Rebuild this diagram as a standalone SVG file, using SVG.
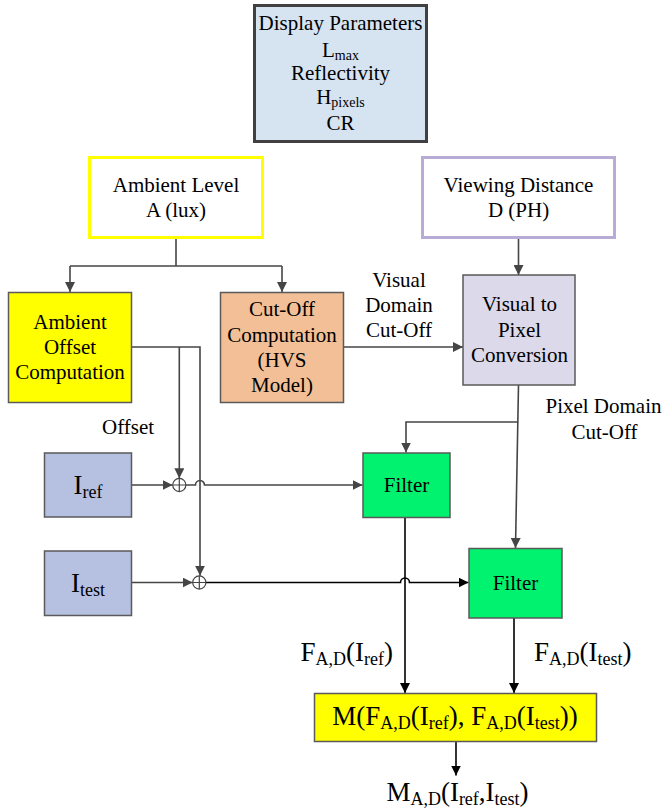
<svg xmlns="http://www.w3.org/2000/svg" width="662" height="809" viewBox="0 0 662 809" font-family="'Liberation Serif', 'Times New Roman', 'DejaVu Serif', serif">
<defs>
<style>
text{font-family:'Liberation Serif','Times New Roman','DejaVu Serif',serif;fill:#000;}
.t{font-size:21px;}
.b{font-size:27px;}
.s{font-size:18px;}
.ds{font-size:14px;}
.ln{fill:none;stroke:#454545;stroke-width:1.6;}
.lk{fill:none;stroke:#000;stroke-width:1.6;}
.box{stroke:#5a5a5a;stroke-width:1.5;}
</style>
<marker id="ag" viewBox="0 0 10 10" refX="10" refY="5" markerWidth="10" markerHeight="10" markerUnits="userSpaceOnUse" orient="auto">
<path d="M0,0 L10,5 L0,10 z" fill="#454545"/>
</marker>
<marker id="ak" viewBox="0 0 10 10" refX="10" refY="5" markerWidth="10" markerHeight="10" markerUnits="userSpaceOnUse" orient="auto">
<path d="M0,0 L10,5 L0,10 z" fill="#000"/>
</marker>
</defs>
<rect width="662" height="809" fill="#fff"/>

<g id="connectors">
<path class="ln" d="M176,239 V266"/>
<path class="ln" d="M70,266 H282"/>
<path class="ln" d="M70,266 V292" marker-end="url(#ag)"/>
<path class="ln" d="M282,266 V292" marker-end="url(#ag)"/>
<path class="ln" d="M518.5,239 V275" marker-end="url(#ag)"/>
<path class="ln" d="M344,347 H463" marker-end="url(#ag)"/>
<path class="ln" d="M518.5,385 L515.5,548" marker-end="url(#ag)"/>
<path class="ln" d="M517.8,422 H406 V452.5" marker-end="url(#ag)"/>
<path class="ln" d="M131.5,347 H200 V575.8" marker-end="url(#ag)"/>
<path class="ln" d="M179.3,347 V478.3" marker-end="url(#ag)"/>
<path class="ln" d="M131.5,485 H172.6" marker-end="url(#ag)"/>
<path class="ln" d="M186,485 H195.5 A4.5,4.5 0 0 1 204.5,485 H362.5" marker-end="url(#ag)"/>
<path class="ln" d="M131.5,582.5 H192.6" marker-end="url(#ag)"/>
<path class="lk" d="M206,582.5 H400.5 A4.5,4.5 0 0 1 409.5,582.5 H468.5" marker-end="url(#ak)"/>
<path class="lk" d="M405,517.5 V693" marker-end="url(#ak)"/>
<path class="lk" d="M514,618 V693" marker-end="url(#ak)"/>
<path class="lk" d="M456,741.5 V775.5" marker-end="url(#ak)"/>
<g fill="#fff" stroke="#454545" stroke-width="1.2">
<circle cx="179.3" cy="485" r="6.6"/>
<path d="M172.7,485 H185.9 M179.3,478.4 V491.6" fill="none"/>
<circle cx="199.3" cy="582.5" r="6.6"/>
<path d="M192.7,582.5 H205.9 M199.3,575.9 V589.1" fill="none"/>
</g>
</g>

<g id="display-parameters">
<rect x="254.5" y="5.5" width="172" height="136" fill="#d6e3f0" stroke="#404040" stroke-width="3"/>
<text class="t" x="340.5" y="30" text-anchor="middle">Display Parameters</text>
<text class="t" x="340.5" y="57" text-anchor="middle">L<tspan class="ds" dy="2.5">max</tspan></text>
<text class="t" x="340.5" y="80" text-anchor="middle">Reflectivity</text>
<text class="t" x="340.5" y="104" text-anchor="middle">H<tspan class="ds" dy="3">pixels</tspan></text>
<text class="t" x="340.5" y="130" text-anchor="middle">CR</text>
</g>

<g id="ambient-level">
<rect x="89.5" y="157.5" width="173" height="80" fill="#fff" stroke="#ffff00" stroke-width="3"/>
<text class="t" x="176" y="192" text-anchor="middle">Ambient Level</text>
<text class="t" x="176" y="217" text-anchor="middle">A (lux)</text>
</g>

<g id="viewing-distance">
<rect x="422.5" y="157.5" width="192" height="80" fill="#fff" stroke="#b8acd6" stroke-width="3"/>
<text class="t" x="518.5" y="192" text-anchor="middle">Viewing Distance</text>
<text class="t" x="518.5" y="217" text-anchor="middle">D (PH)</text>
</g>

<g id="ambient-offset">
<rect class="box" x="8.5" y="292.5" width="123" height="110" fill="#ffff00"/>
<text class="t" x="70" y="329" text-anchor="middle">Ambient</text>
<text class="t" x="70" y="354" text-anchor="middle">Offset</text>
<text class="t" x="70" y="379" text-anchor="middle">Computation</text>
</g>

<g id="cutoff-computation">
<rect class="box" x="220.5" y="292.5" width="123" height="110" fill="#f2bf96"/>
<text class="t" x="282" y="316" text-anchor="middle">Cut-Off</text>
<text class="t" x="282" y="341.5" text-anchor="middle">Computation</text>
<text class="t" x="282" y="366.5" text-anchor="middle">(HVS</text>
<text class="t" x="282" y="391.5" text-anchor="middle">Model)</text>
</g>

<g id="visual-to-pixel">
<rect class="box" x="463" y="275" width="112" height="110" fill="#dbd9ea"/>
<text class="t" x="519.5" y="311" text-anchor="middle">Visual to</text>
<text class="t" x="519.5" y="336.5" text-anchor="middle">Pixel</text>
<text class="t" x="519.5" y="362" text-anchor="middle">Conversion</text>
</g>

<g id="label-visual-cutoff">
<text class="t" x="399" y="286.5" text-anchor="middle">Visual</text>
<text class="t" x="399" y="311.5" text-anchor="middle">Domain</text>
<text class="t" x="399" y="336.5" text-anchor="middle">Cut-Off</text>
</g>

<g id="label-pixel-cutoff">
<text class="t" x="603.5" y="413" text-anchor="middle">Pixel Domain</text>
<text class="t" x="604.5" y="439" text-anchor="middle">Cut-Off</text>
</g>

<g id="label-offset">
<text class="t" x="102" y="434">Offset</text>
</g>

<g id="iref">
<rect class="box" x="44.5" y="453" width="87" height="64" fill="#b6c0e0"/>
<text class="b" x="88" y="493.5" text-anchor="middle">I<tspan class="s" dy="4">ref</tspan></text>
</g>

<g id="itest">
<rect class="box" x="44.5" y="551" width="87" height="64.5" fill="#b6c0e0"/>
<text class="b" x="88" y="591.5" text-anchor="middle">I<tspan class="s" dy="4">test</tspan></text>
</g>

<g id="filter-ref">
<rect class="box" x="363" y="453" width="87" height="64.5" fill="#00f26e"/>
<text class="t" x="406.5" y="492" text-anchor="middle">Filter</text>
</g>

<g id="filter-test">
<rect class="box" x="469" y="548.5" width="93" height="69.5" fill="#00f26e"/>
<text class="t" x="515.5" y="590" text-anchor="middle">Filter</text>
</g>

<g id="label-f-ref">
<text class="b" x="393" y="661" text-anchor="end">F<tspan class="s" dy="4">A,D</tspan><tspan dy="-4">(I</tspan><tspan class="s" dy="4">ref</tspan><tspan dy="-4">)</tspan></text>
</g>

<g id="label-f-test">
<text class="b" x="534" y="661">F<tspan class="s" dy="4">A,D</tspan><tspan dy="-4">(I</tspan><tspan class="s" dy="4">test</tspan><tspan dy="-4">)</tspan></text>
</g>

<g id="metric">
<rect class="box" x="314.5" y="693.5" width="282" height="48" fill="#ffff00"/>
<text class="b" x="455" y="725" text-anchor="middle">M(F<tspan class="s" dy="4">A,D</tspan><tspan dy="-4">(I</tspan><tspan class="s" dy="4">ref</tspan><tspan dy="-4">), F</tspan><tspan class="s" dy="4">A,D</tspan><tspan dy="-4">(I</tspan><tspan class="s" dy="4">test</tspan><tspan dy="-4">))</tspan></text>
</g>

<g id="output">
<text class="b" x="457.5" y="800.5" text-anchor="middle">M<tspan class="s" dy="4">A,D</tspan><tspan dy="-4">(I</tspan><tspan class="s" dy="4">ref</tspan><tspan dy="-4">,I</tspan><tspan class="s" dy="4">test</tspan><tspan dy="-4">)</tspan></text>
</g>
</svg>
